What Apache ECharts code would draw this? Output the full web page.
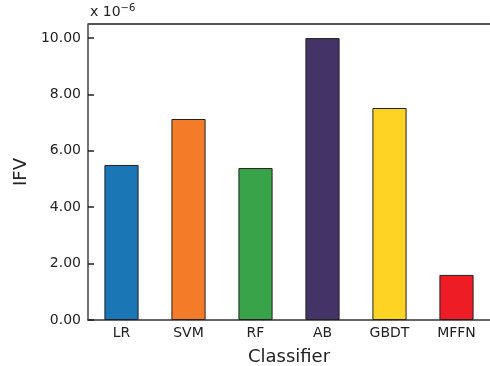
<!DOCTYPE html>
<html><head><meta charset="utf-8">
<script src="https://cdn.jsdelivr.net/npm/echarts@6/dist/echarts.min.js"></script>
<style>html,body{margin:0;padding:0;background:#fff}#c{width:490px;height:366px}</style>
</head><body><div id="c"></div>
<script>
const categories = ['LR','SVM','RF','AB','GBDT','MFFN'];
const values = [5.50, 7.13, 5.39, 10.00, 7.52, 1.60];
const colors = ['#1a76b4','#f47c28','#39a349','#433366','#ffd324','#ee1c25'];
const yTicks = [0, 2, 4, 6, 8, 10];
const chart = echarts.init(document.getElementById('c'));
const font = 'DejaVu Sans';
chart.setOption({
  animation: false,
  grid: {left: 88, right: 0, top: 24, bottom: 46, containLabel: false, outerBoundsMode: 'none'},
  graphic: [{
    type: 'text', left: 90, top: 3,
    style: {
      text: '{a|x 10}{b|−6}', font: '14px DejaVu Sans', fill: '#222',
      rich: {a: {fontSize: 14, fontFamily: font, fill: '#222'}, b: {fontSize: 10, fontFamily: font, verticalAlign: 'top', padding: [0,0,8,0], fill: '#222'}}
    }
  }],
  xAxis: {
    type: 'category', data: categories,
    name: 'Classifier', nameLocation: 'middle', nameGap: 28,
    nameTextStyle: {fontSize: 18, fontFamily: font, color: '#222'},
    axisLine: {show: true, lineStyle: {color: '#333', width: 1.5}},
    axisTick: {show: true, inside: true, alignWithLabel: true, length: 6, lineStyle: {color: '#222', width: 1.5}},
    axisLabel: {fontSize: 14, fontFamily: font, color: '#222', margin: 6},
    splitLine: {show: false}
  },
  yAxis: {
    type: 'value', min: 0, max: 10.5, interval: 2,
    name: 'IFV', nameLocation: 'middle', nameGap: 57,
    nameTextStyle: {fontSize: 18, fontFamily: font, color: '#222'},
    axisLine: {show: true, lineStyle: {color: '#444', width: 1.5}},
    axisTick: {show: true, inside: true, length: 6, lineStyle: {color: '#222', width: 1.5}},
    axisLabel: {fontSize: 14, fontFamily: font, color: '#222', margin: 7,
      formatter: v => yTicks.includes(v) ? v.toFixed(2) : ''},
    splitLine: {show: false}
  },
  series: [{
    type: 'bar', barWidth: '51%',
    data: values.map((v, i) => ({value: v, itemStyle: {color: colors[i]}})),
    itemStyle: {borderColor: '#222', borderWidth: 1}
  }, {
    type: 'line', data: [], markLine: {
      silent: true, symbol: 'none', label: {show: false},
      lineStyle: {color: '#555', width: 2, type: 'solid'},
      data: [{yAxis: 10.5}]
    }
  }]
});
</script></body></html>
